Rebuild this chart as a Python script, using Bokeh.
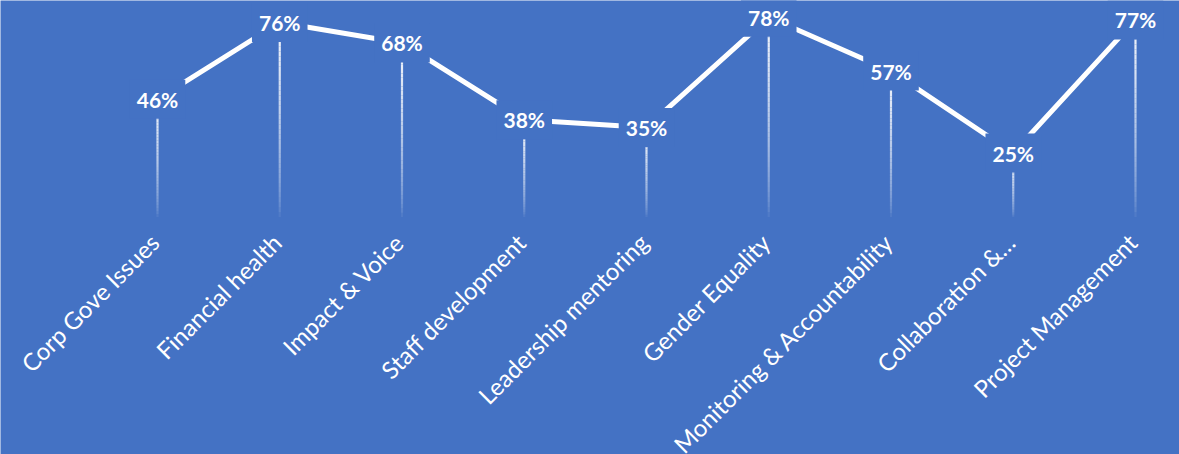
import math
from bokeh.plotting import figure
from bokeh.models import Range1d, ColumnDataSource
from bokeh.embed import file_html
from bokeh.resources import INLINE
from bokeh.core.properties import value

# ---- data ----
categories = ["Corp Gove Issues", "Financial health", "Impact & Voice",
              "Staff development", "Leadership mentoring", "Gender Equality",
              "Monitoring & Accountability", "Collaboration &\u2026",
              "Project Management"]
percent_values = [46, 76, 68, 38, 35, 78, 57, 25, 77]
value_labels = [f"{v}%" for v in percent_values]

BG = "#4472C4"
xs = list(range(len(categories)))

p = figure(width=1179, height=454, output_backend="svg", toolbar_location=None,
           x_range=Range1d(-1.2843, 8.36), y_range=Range1d(-92.77, 84.57),
           min_border_left=0, min_border_right=0, min_border_top=0,
           min_border_bottom=0)
p.background_fill_color = BG
p.border_fill_color = BG
p.outline_line_color = None
p.grid.visible = False
p.axis.visible = False

# series line
p.line(xs, percent_values, line_color="white", line_width=5)

# drop lines with fading gradient (drawn as stacked pieces)
N = 40
sx, sy0, sy1, sa = [], [], [], []
for x, v in zip(xs, percent_values):
    for k in range(N):
        f0, f1 = k / N, (k + 1) / N
        sx.append(x)
        sy0.append(v * f0)
        sy1.append(v * f1)
        sa.append(0.95 * ((f0 + f1) / 2) ** 0.6)
p.segment(x0=sx, y0=sy0, x1=sx, y1=sy1, line_color="white", line_width=2.2,
          line_alpha=sa, line_cap="butt")

# value labels with background masking the line
src = ColumnDataSource(dict(x=xs, y=percent_values, t=value_labels))
p.text(x="x", y="y", text="t", source=src, text_color="white",
       text_font=value("Lato"), text_font_style="bold", text_font_size="21px",
       text_align="center", text_baseline="middle",
       background_fill_color=BG, padding=7)

# category labels (rotated), anchored at each category on the baseline
csrc = ColumnDataSource(dict(x=xs, y=[0] * len(xs), t=categories))
p.text(x="x", y="y", text="t", source=csrc, text_color="white",
       text_font=value("Lato"), text_font_size="24px",
       text_align="right", text_baseline="middle", angle=math.pi / 4,
       x_offset=-3, y_offset=21)

open("out.html", "w").write(file_html(p, INLINE))
